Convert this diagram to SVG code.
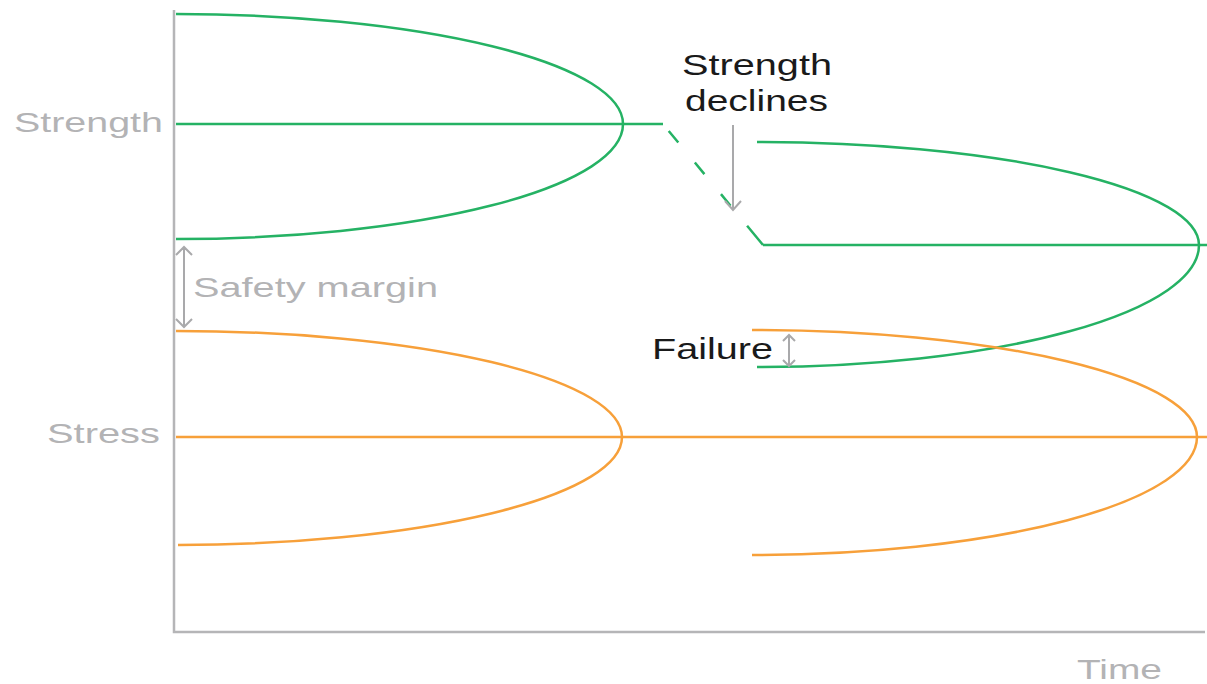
<svg xmlns="http://www.w3.org/2000/svg" width="1207" height="684" viewBox="0 0 1207 684">
  <style>
    .axis { stroke: #b5b5b7; stroke-width: 2.5; fill: none; }
    .green { stroke: #25b264; stroke-width: 2.5; fill: none; }
    .orange { stroke: #f7a03a; stroke-width: 2.5; fill: none; }
    .dim { stroke: #a9a9ab; stroke-width: 2; fill: none; }
    .lbl { font-family: "Liberation Sans", Arial, sans-serif; fill: #b3b3b5; font-size: 28px; }
    .note { font-family: "Liberation Sans", Arial, sans-serif; fill: #1a1a1a; font-size: 30px; }
  </style>
  <rect width="1207" height="684" fill="#ffffff"/>

  <!-- axes -->
  <g id="axes">
    <path class="axis" d="M174,10 V632 H1205"/>
  </g>

  <!-- strength distributions -->
  <g id="strength-initial">
    <path class="green" d="M176,14 A447,110 0 0 1 623,124 A447,115 0 0 1 176,239"/>
  </g>
  <g id="strength-later">
    <path class="green" d="M757,142 A442,103 0 0 1 1199,245 A442,122 0 0 1 757,367"/>
  </g>

  <!-- stress distributions -->
  <g id="stress-initial">
    <path class="orange" d="M176,331 A446,106 0 0 1 622,437 A446,108 0 0 1 178,545"/>
  </g>
  <g id="stress-later">
    <path class="orange" d="M752,330 A445,107 0 0 1 1197,437 A445,118 0 0 1 752,555"/>
  </g>

  <!-- mean lines and dimension arrows -->
  <g id="connectors">
    <path class="green" d="M176,124 H663"/>
    <path class="green" d="M663,124 L763,245" stroke-dasharray="0 9 15 26 15 26 15 26 40"/>
    <path class="green" d="M763,245 H1207"/>
    <path class="orange" d="M176,437 H1207"/>
    <!-- strength declines arrow -->
    <path class="dim" d="M733,125 V210 M725,201 L733,210 L741,201"/>
    <!-- safety margin arrow -->
    <path class="dim" d="M184,247 V327 M176,255 L184,247 L192,255 M176,319 L184,327 L192,319"/>
    <!-- failure arrow -->
    <path class="dim" d="M789,335 V366 M783,341 L789,335 L795,341 M783,360 L789,366 L795,360"/>
  </g>

  <!-- labels -->
  <g id="labels">
    <text class="lbl" x="14" y="132" textLength="149" lengthAdjust="spacingAndGlyphs">Strength</text>
    <text class="lbl" x="47" y="443" textLength="113" lengthAdjust="spacingAndGlyphs">Stress</text>
    <text class="lbl" x="193" y="297" textLength="245" lengthAdjust="spacingAndGlyphs">Safety margin</text>
    <text class="lbl" x="1077" y="679" textLength="85" lengthAdjust="spacingAndGlyphs">Time</text>
    <text class="note" x="682" y="75" textLength="150" lengthAdjust="spacingAndGlyphs">Strength</text>
    <text class="note" x="685" y="111" textLength="143" lengthAdjust="spacingAndGlyphs">declines</text>
    <text class="note" x="652" y="359" textLength="121" lengthAdjust="spacingAndGlyphs">Failure</text>
  </g>
</svg>
